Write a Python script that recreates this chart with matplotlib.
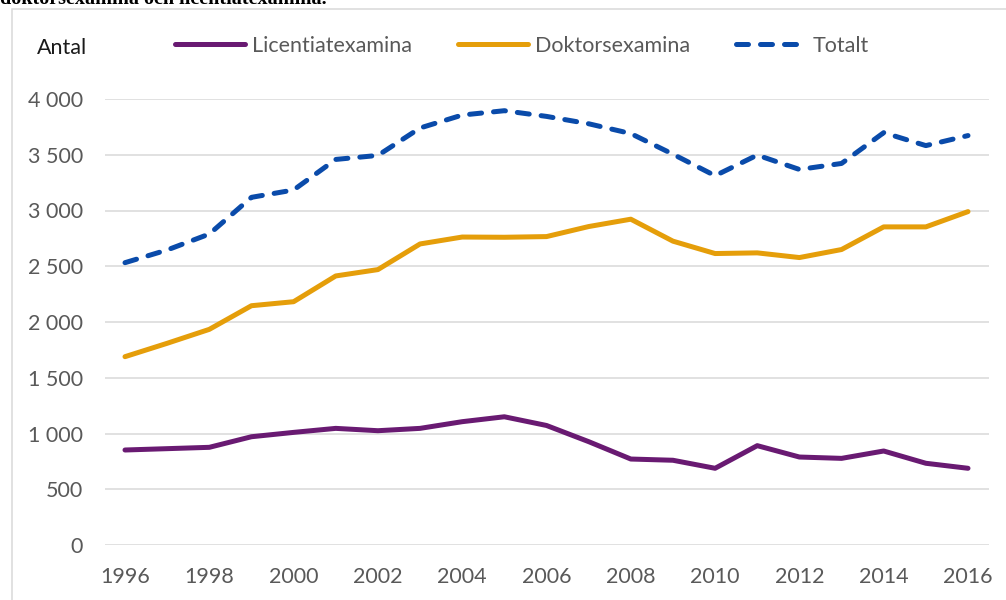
import numpy as np
import matplotlib
matplotlib.use('Agg')
from matplotlib import pyplot as plt
from matplotlib.patches import Rectangle

years = list(range(1996, 2017))
licentiat = [852, 864, 876, 971, 1010, 1046, 1025, 1046, 1106, 1150, 1072, 927,
             771, 760, 688, 891, 789, 777, 843, 733, 688]
doktors = [1689, 1809, 1934, 2146, 2182, 2413, 2470, 2700, 2762, 2760, 2766, 2856,
           2922, 2725, 2614, 2620, 2578, 2650, 2853, 2853, 2990]
totalt = [2532, 2646, 2789, 3118, 3184, 3458, 3494, 3740, 3856, 3895, 3844, 3778,
          3690, 3505, 3312, 3497, 3368, 3422, 3698, 3582, 3672]
yticks = [0, 500, 1000, 1500, 2000, 2500, 3000, 3500, 4000]
xticks = list(range(1996, 2017, 2))
names = ['Licentiatexamina', 'Doktorsexamina', 'Totalt']

purple = '#691A72'
orange = '#E59E0A'
blue = '#0A4BAA'
gray_txt = '#595959'

plt.rcParams['font.family'] = ['Lato', 'DejaVu Sans']
fs = 15.5

W, H = 1006, 600
fig = plt.figure(figsize=(W/100, H/100), dpi=100)
ax = fig.add_axes([105/W, 1-545/H, (989-105)/W, (545-99)/H])

ax.plot(years, licentiat, color=purple, lw=3.6, solid_capstyle='round',
        solid_joinstyle='round', label=names[0], clip_on=False)
ax.plot(years, doktors, color=orange, lw=3.6, solid_capstyle='round',
        solid_joinstyle='round', label=names[1], clip_on=False)
ax.plot(years, totalt, color=blue, lw=3.6, dashes=(2.4, 2.4), dash_capstyle='round',
        label=names[2], clip_on=False)

ax.set_xlim(1996 - 20/42.15, 2016 + 21/42.15)
ax.set_ylim(0, 4000)
ax.set_yticks(yticks)
ax.set_yticklabels(['{:,}'.format(v).replace(',', ' ') for v in yticks])
ax.set_xticks(xticks)
ax.set_xticklabels([str(x) for x in xticks])
ax.tick_params(length=0, labelsize=fs, labelcolor=gray_txt)
ax.tick_params(axis='y', pad=16)
ax.tick_params(axis='x', pad=16)
ax.grid(axis='y', color='#d9d9d9', lw=1.1)
ax.set_axisbelow(True)
for s in ax.spines.values():
    s.set_visible(False)

leg = ax.legend(ncol=3, loc='center left', bbox_to_anchor=(175/W, 1-46/H),
                bbox_transform=fig.transFigure, frameon=False, fontsize=fs,
                handlelength=3.25, handletextpad=0.35, columnspacing=2.1,
                borderpad=0, borderaxespad=0)
for t in leg.get_texts():
    t.set_color(gray_txt)

fig.text(37/W, 1-48/H, 'Antal', fontsize=fs, color='#1a1a1a', va='center')

# heading from the page, cut off by the top edge like in the source
fig.text(0, 1-4/H, 'doktorsexamina och licentiatexamina.', fontsize=14.5,
         family='Liberation Serif', weight='bold', va='baseline', ha='left')

fig.add_artist(Rectangle((12/W, -0.05), 1.0, 1-9/H + 0.05, transform=fig.transFigure,
                         fill=False, edgecolor='#d9d9d9', lw=1.1))

fig.savefig('out.png', dpi=100)
